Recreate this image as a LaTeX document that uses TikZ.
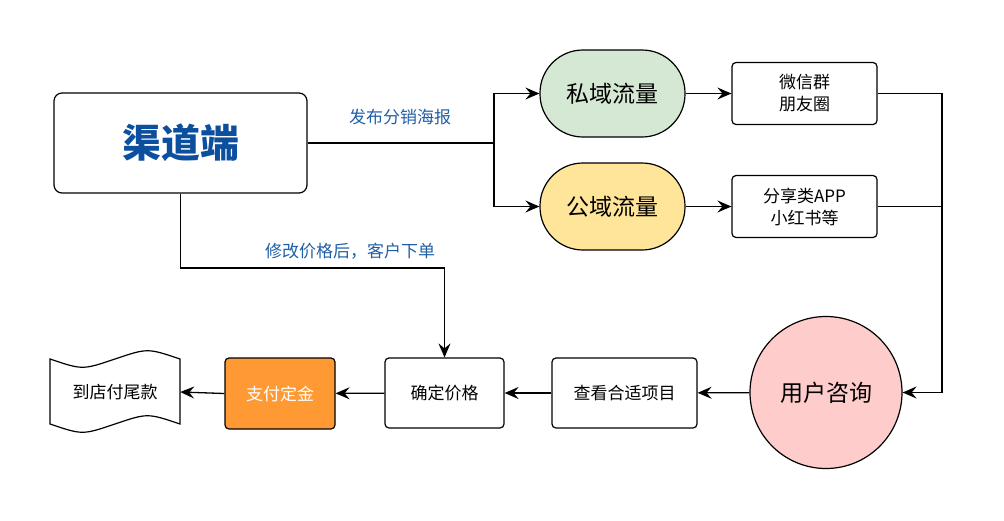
\documentclass[tikz,border=0pt]{standalone}
\usepackage{fontspec}
\setmainfont{Noto Sans CJK SC}
\usepackage{tikz}
\usetikzlibrary{arrows.meta}
\definecolor{privfill}{HTML}{D5E8D4}
\definecolor{pubfill}{HTML}{FFE599}
\definecolor{askfill}{HTML}{FFCCCC}
\definecolor{payfill}{HTML}{FF9933}
\definecolor{labelblue}{HTML}{1F5FA6}
\definecolor{titleblue}{HTML}{0B4F9E}
\tikzset{
  every node/.style={align=center,inner sep=0pt},
  box/.style={draw,line width=1.2pt,rounded corners=4pt,minimum width=145pt,minimum height=62pt,font=\fontsize{17}{22}\selectfont},
  pill/.style={draw,line width=1.2pt,rounded corners=43pt,minimum width=145pt,minimum height=87pt,font=\fontsize{23}{27}\selectfont},
  edgelabel/.style={text=labelblue,font=\fontsize{17}{20}\selectfont},
  link/.style={line width=1.3pt},
  arrow/.style={link,-{Stealth[length=14pt,width=12pt,inset=5pt]}},
}

\begin{document}
\begin{tikzpicture}[x=1pt,y=-1pt]
\useasboundingbox (0,0) rectangle (1004,520);
\node[box,minimum width=253pt,minimum height=100pt,rounded corners=8pt,text=titleblue,font=\fontsize{39}{41}\selectfont\bfseries] (channel) at (180.5,143) {渠道端};
\node[pill,fill=privfill] (private) at (612.5,93.5) {私域流量};
\node[pill,fill=pubfill] (public) at (612.5,206.5) {公域流量};
\node[box] (wechat) at (804.5,93.5) {微信群\\朋友圈};
\node[box] (apps) at (804.5,206.5) {分享类APP\\小红书等};
\node[circle,draw,line width=1.2pt,fill=askfill,minimum size=152pt,font=\fontsize{23}{27}\selectfont] (consult) at (826,392.5) {用户咨询};
\node[box,minimum height=70pt] (browse) at (624.5,393) {查看合适项目};
\node[box,minimum width=119pt,minimum height=70pt] (price) at (444.5,393) {确定价格};
\node[box,minimum width=110pt,minimum height=71pt,fill=payfill,text=white] (deposit) at (280,393.5) {支付定金};
\node[minimum width=130pt,minimum height=66pt,font=\fontsize{17}{20}\selectfont] (balance) at (115,392) {到店付尾款};
\draw[line width=1.2pt] (50,359) .. controls (82.5,370) and (82.5,370) .. (115,359) .. controls (147.5,348) and (147.5,348) .. (180,359)
  -- (180,424) .. controls (147.5,413) and (147.5,413) .. (115,424) .. controls (82.5,435) and (82.5,435) .. (50,424) -- cycle;

\coordinate (split) at (494,143);
\coordinate (bend) at (180.5,268);
\coordinate (merge) at (942,392.5);
\node[edgelabel] (postlabel) at (400,117) {发布分销海报};
\node[edgelabel] (orderlabel) at (350,251) {修改价格后，客户下单};

\draw[link] (channel.east) -- (split);
\draw[arrow] (split) |- (private.west);
\draw[arrow] (split) |- (public.west);
\draw[arrow] (private) -- (wechat);
\draw[arrow] (public) -- (apps);
\draw[link] (wechat.east) -| (merge);
\draw[link] (apps.east) -- (apps.east -| merge);
\draw[arrow] (merge) -- (consult.east);
\draw[arrow] (consult) -- (browse);
\draw[arrow] (browse) -- (price);
\draw[arrow] (price) -- (deposit);
\draw[arrow] (deposit.west) -- (balance.east);
\draw[arrow] (channel.south) -- (bend) -| (price.north);
\end{tikzpicture}
\end{document}
